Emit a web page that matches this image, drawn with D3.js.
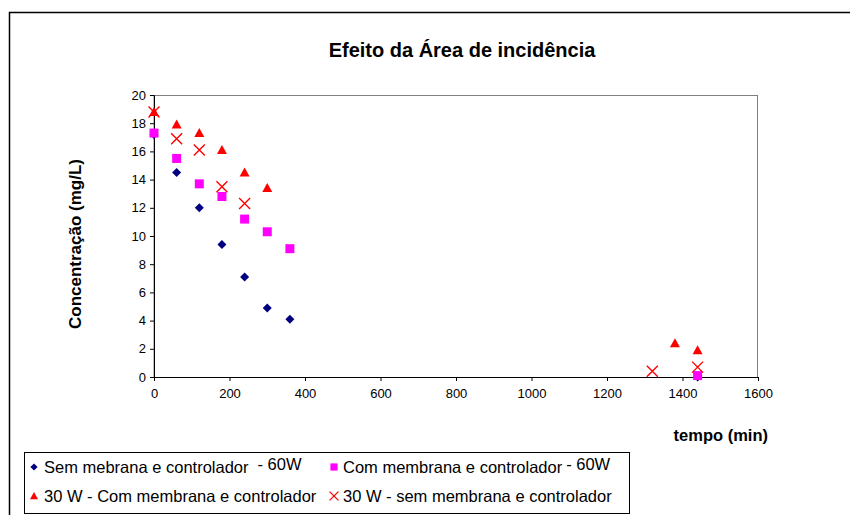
<!DOCTYPE html>
<html>
<head>
<meta charset="utf-8">
<script src="https://cdn.jsdelivr.net/npm/d3@7"></script>
<style>
  html, body { margin: 0; padding: 0; background: #fff; }
  svg { display: block; font-family: "Liberation Sans", Arial, sans-serif; }
</style>
</head>
<body>
<svg id="chart" width="850" height="515"></svg>
<script>
// ---- data ----
const title = "Efeito da Área de incidência";
const xTitle = "tempo (min)";
const yTitle = "Concentração (mg/L)";
const xTicks = [0, 200, 400, 600, 800, 1000, 1200, 1400, 1600];
const yTicks = [0, 2, 4, 6, 8, 10, 12, 14, 16, 18, 20];

const time60W = [0, 60, 120, 180, 240, 300, 360, 1440];
const semMembrana60W = [17.2, 14.5, 12.0, 9.4, 7.1, 4.9, 4.1, 0.0];
const comMembrana60W = [17.3, 15.5, 13.7, 12.8, 11.2, 10.3, 9.1, 0.1];

const time30WCom = [0, 60, 120, 180, 240, 300, 1380, 1440];
const comMembrana30W = [18.8, 17.9, 17.3, 16.1, 14.5, 13.4, 2.4, 1.9];

const time30WSem = [0, 60, 120, 180, 240, 1320, 1440];
const semMembrana30W = [18.8, 16.9, 16.1, 13.5, 12.3, 0.4, 0.7];

const seriesNames = [
  ["Sem mebrana e controlador", "- 60W"],
  ["Com membrana e controlador", "- 60W"],
  ["30 W - Com membrana e controlador", ""],
  ["30 W - sem membrana e controlador", ""]
];

// ---- layout ----
const svg = d3.select("#chart");
const plot = { left: 154, right: 758, top: 95, bottom: 377 };

const x = d3.scaleLinear().domain([0, 1600]).range([plot.left, plot.right]);
const y = d3.scaleLinear().domain([0, 20]).range([plot.bottom, plot.top]);

// outer frame
svg.append("rect").attr("x", 9.5).attr("y", 12.5).attr("width", 900).attr("height", 600)
  .attr("fill", "none").attr("stroke", "#000").attr("stroke-width", 1.5);

// title
svg.append("text").attr("x", 462).attr("y", 57).attr("text-anchor", "middle")
  .attr("font-size", 20).attr("font-weight", "bold").text(title);

// plot area border (gray)
svg.append("rect").attr("x", plot.left).attr("y", plot.top + 0.5)
  .attr("width", plot.right - plot.left - 0.5).attr("height", plot.bottom - plot.top)
  .attr("fill", "none").attr("stroke", "#808080").attr("stroke-width", 1);

// axes
const xAxis = svg.append("g").attr("transform", `translate(0,${plot.bottom})`)
  .call(d3.axisBottom(x).tickValues(xTicks).tickFormat(d3.format("d")).tickSizeOuter(0).tickSize(4).tickPadding(8));
const yAxis = svg.append("g").attr("transform", `translate(${plot.left},0)`)
  .call(d3.axisLeft(y).tickValues(yTicks).tickFormat(d3.format("d")).tickSizeOuter(0).tickSize(4).tickPadding(4));
[xAxis, yAxis].forEach(a => {
  a.selectAll("text").attr("font-size", 13).attr("font-family", "Liberation Sans, Arial, sans-serif").attr("fill", "#000");
  a.select(".domain").attr("stroke", "#000");
  a.selectAll(".tick line").attr("stroke", "#000");
});

// axis titles
svg.append("text").attr("x", 768).attr("y", 441).attr("text-anchor", "end")
  .attr("font-size", 16.5).attr("font-weight", "bold").text(xTitle);
svg.append("text").attr("transform", `translate(81,${244}) rotate(-90)`)
  .attr("text-anchor", "middle").attr("font-size", 17).attr("font-weight", "bold").text(yTitle);

// marker paths (centered at origin)
const diamondPath = "M0,-4.5L4.5,0L0,4.5L-4.5,0Z";
const squarePath = "M-4.5,-4.5H4.5V4.5H-4.5Z";
const trianglePath = "M0,-5L5,4L-5,4Z";
const crossPath = "M-5.5,-5.5L5.5,5.5M-5.5,5.5L5.5,-5.5";

function drawSeries(xs, ys, path, fill, stroke) {
  svg.append("g").selectAll("path").data(xs.map((t, i) => [t, ys[i]])).join("path")
    .attr("transform", d => `translate(${x(d[0])},${y(d[1])})`)
    .attr("d", path)
    .attr("fill", fill)
    .attr("stroke", stroke || "none")
    .attr("stroke-width", stroke ? 1.4 : 0);
}
drawSeries(time60W, semMembrana60W, diamondPath, "#000080");
drawSeries(time60W, comMembrana60W, squarePath, "#FF00FF");
drawSeries(time30WCom, comMembrana30W, trianglePath, "#FF0000");
drawSeries(time30WSem, semMembrana30W, crossPath, "none", "#FF0000");

// legend
svg.append("rect").attr("x", 24.5).attr("y", 452.5).attr("width", 605).attr("height", 61)
  .attr("fill", "#fff").attr("stroke", "#000").attr("stroke-width", 1);

const legendItems = [
  { name: seriesNames[0], path: diamondPath, fill: "#000080", mx: 34, my: 467, tx: 44, ty: 473, gap: 9 },
  { name: seriesNames[1], path: squarePath, fill: "#FF00FF", mx: 334, my: 467, tx: 343, ty: 473, gap: 4 },
  { name: seriesNames[2], path: trianglePath, fill: "#FF0000", mx: 34, my: 496, tx: 44, ty: 502 },
  { name: seriesNames[3], path: crossPath, fill: "none", stroke: "#FF0000", mx: 334, my: 496, tx: 343, ty: 502 }
];
const lg = svg.append("g");
legendItems.forEach(it => {
  lg.append("path").attr("transform", `translate(${it.mx},${it.my}) scale(0.8)`)
    .attr("d", it.path).attr("fill", it.fill)
    .attr("stroke", it.stroke || "none").attr("stroke-width", it.stroke ? 1.6 : 0);
  const t = lg.append("text").attr("x", it.tx).attr("y", it.ty).attr("font-size", 16.5);
  t.append("tspan").text(it.name[0]);
  if (it.name[1]) t.append("tspan").attr("dy", -3).attr("dx", it.gap).text(it.name[1]);
});
</script>
</body>
</html>
